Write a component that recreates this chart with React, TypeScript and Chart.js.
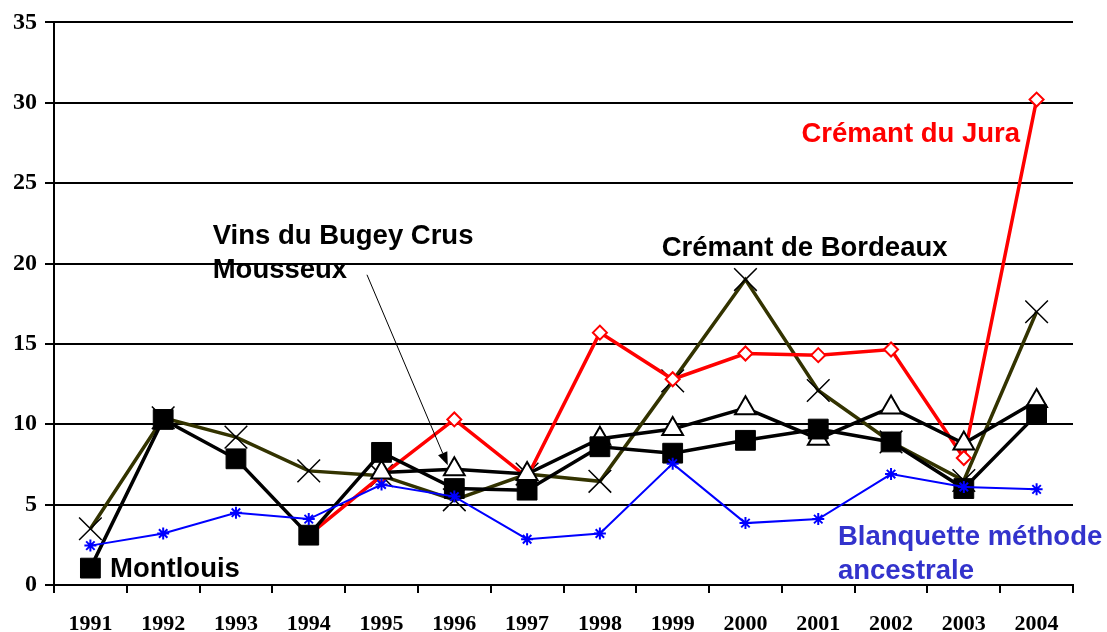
import React, { useEffect, useRef } from "react";
import { Chart, registerables } from "chart.js";

Chart.register(...registerables);

const years = ["1991", "1992", "1993", "1994", "1995", "1996", "1997", "1998", "1999", "2000", "2001", "2002", "2003", "2004"];

const montlouis = [1.05, 10.3, 7.85, 3.1, 8.25, 6.0, 5.9, 8.6, 8.2, 9.0, 9.7, 8.9, 6.0, 10.6];
const bugey = [null, null, null, null, 7.0, 7.2, 6.9, 9.1, 9.7, 11.0, 9.1, 11.05, 8.8, 11.45];
const bordeaux = [3.5, 10.4, 9.2, 7.1, 6.8, 5.3, 6.9, 6.45, 12.7, 19.0, 12.1, 8.9, 6.5, 17.0];
const jura = [null, null, null, 3.1, 6.8, 10.3, 6.7, 15.7, 12.8, 14.4, 14.3, 14.65, 7.9, 30.2];
const blanquette = [2.45, 3.2, 4.5, 4.1, 6.25, 5.5, 2.85, 3.2, 7.55, 3.85, 4.1, 6.9, 6.1, 5.95];

const yTicks = [0, 5, 10, 15, 20, 25, 30, 35];

// annotation texts, positioned in data units (category index, value)
const labelTexts = [
  { lines: ["Vins du Bugey Crus", "Mousseux"], x: 1.68, y: 21.2, color: "#000000" },
  { lines: ["Crémant de Bordeaux"], x: 7.85, y: 20.45, color: "#000000" },
  { lines: ["Crémant du Jura"], x: 9.77, y: 27.55, color: "#FF0000" },
  { lines: ["Blanquette méthode", "ancestrale"], x: 10.27, y: 2.48, color: "#3333CC" },
  { lines: ["Montlouis"], x: 0.27, y: 0.5, color: "#000000" },
];
const arrowFrom = { x: 3.8, y: 19.3 };
const arrowTo = { x: 4.91, y: 7.45 };

const annotationPlugin = {
  id: "annots",
  afterDatasetsDraw(chart: any) {
    const { ctx, scales } = chart;
    const xs = scales.x;
    const ys = scales.y;
    ctx.save();
    ctx.font = "bold 27.5px 'Liberation Sans', Arial, sans-serif";
    ctx.textAlign = "left";
    ctx.textBaseline = "alphabetic";
    const lineGap = 34;
    labelTexts.forEach((t) => {
      const px = xs.getPixelForValue(t.x);
      const py = ys.getPixelForValue(t.y);
      ctx.fillStyle = t.color;
      t.lines.forEach((ln, i) => ctx.fillText(ln, px, py + i * lineGap));
    });
    // arrow
    const x1 = xs.getPixelForValue(arrowFrom.x);
    const y1 = ys.getPixelForValue(arrowFrom.y);
    const x2 = xs.getPixelForValue(arrowTo.x);
    const y2 = ys.getPixelForValue(arrowTo.y);
    const ang = Math.atan2(y2 - y1, x2 - x1);
    const headLen = 13;
    const headW = 5;
    const bx = x2 - headLen * Math.cos(ang);
    const by = y2 - headLen * Math.sin(ang);
    ctx.strokeStyle = "#000";
    ctx.lineWidth = 1;
    ctx.beginPath();
    ctx.moveTo(x1, y1);
    ctx.lineTo(bx, by);
    ctx.stroke();
    ctx.fillStyle = "#000";
    ctx.beginPath();
    ctx.moveTo(x2, y2);
    ctx.lineTo(bx + headW * Math.sin(ang), by - headW * Math.cos(ang));
    ctx.lineTo(bx - headW * Math.sin(ang), by + headW * Math.cos(ang));
    ctx.closePath();
    ctx.fill();
    ctx.restore();
  },
};

export default function App() {
  const ref = useRef<HTMLCanvasElement | null>(null);
  useEffect(() => {
    if (!ref.current) return;
    const chart = new Chart(ref.current, {
      type: "line",
      data: {
        labels: years,
        datasets: [
          {
            label: "Blanquette méthode ancestrale",
            data: blanquette,
            order: 1,
            borderColor: "#0000FF",
            borderWidth: 2,
            pointStyle: "star",
            pointRadius: 6,
            pointBorderColor: "#0000FF",
            pointBackgroundColor: "#0000FF",
            pointBorderWidth: 2,
            tension: 0,
          },
          {
            label: "Montlouis",
            data: montlouis,
            order: 2,
            borderColor: "#000000",
            borderWidth: 3.5,
            pointStyle: "rect",
            pointRadius: 14,
            pointBackgroundColor: "#000000",
            pointBorderColor: "#000000",
            pointBorderWidth: 1,
            tension: 0,
          },
          {
            label: "Vins du Bugey Crus Mousseux",
            data: bugey,
            order: 3,
            borderColor: "#000000",
            borderWidth: 3.5,
            pointStyle: "triangle",
            pointRadius: 12,
            pointBackgroundColor: "#FFFFFF",
            pointBorderColor: "#000000",
            pointBorderWidth: 2,
            tension: 0,
          },
          {
            label: "Crémant du Jura",
            data: jura,
            order: 4,
            borderColor: "#FF0000",
            borderWidth: 3.5,
            pointStyle: "rectRot",
            pointRadius: 7,
            pointBackgroundColor: "#FFFFFF",
            pointBorderColor: "#FF0000",
            pointBorderWidth: 2,
            tension: 0,
          },
          {
            label: "Crémant de Bordeaux",
            data: bordeaux,
            order: 5,
            borderColor: "#333300",
            borderWidth: 3.5,
            pointStyle: "crossRot",
            pointRadius: 16,
            pointBorderColor: "#000000",
            pointBackgroundColor: "#000000",
            pointBorderWidth: 1.5,
            tension: 0,
          },
        ],
      },
      options: {
        animation: false,
        responsive: true,
        maintainAspectRatio: false,
        layout: { padding: { top: 20, right: 34, left: 0, bottom: 0 } },
        plugins: { legend: { display: false }, tooltip: { enabled: false } },
        elements: { line: { fill: false } },
        scales: {
          x: {
            type: "category",
            offset: true,
            grid: {
              display: true,
              offset: true,
              drawOnChartArea: false,
              drawTicks: true,
              tickLength: 8,
              color: "#000000",
              lineWidth: 2,
            },
            border: { display: true, color: "#000000", width: 2 },
            ticks: {
              color: "#000000",
              padding: 18,
              maxRotation: 0,
              autoSkip: false,
              font: { family: "'Liberation Serif', 'Times New Roman', serif", size: 22, weight: "bold" },
            },
            afterFit: (s: any) => {
              s.height = 47;
            },
          },
          y: {
            min: 0,
            max: 35,
            afterBuildTicks: (s: any) => {
              s.ticks = yTicks.map((v) => ({ value: v }));
            },
            grid: {
              color: "#000000",
              lineWidth: 2,
              drawTicks: true,
              tickLength: 9,
            },
            border: { display: true, color: "#000000", width: 2 },
            ticks: {
              color: "#000000",
              padding: 8,
              font: { family: "'Liberation Serif', 'Times New Roman', serif", size: 24, weight: "bold" },
            },
            afterFit: (s: any) => {
              s.width = 54;
            },
          },
        },
      },
      plugins: [annotationPlugin],
    });
    return () => chart.destroy();
  }, []);
  return (
    <div style={{ position: "fixed", left: 0, top: 0, width: 1107, height: 632, background: "#fff" }}>
      <canvas ref={ref} />
    </div>
  );
}
